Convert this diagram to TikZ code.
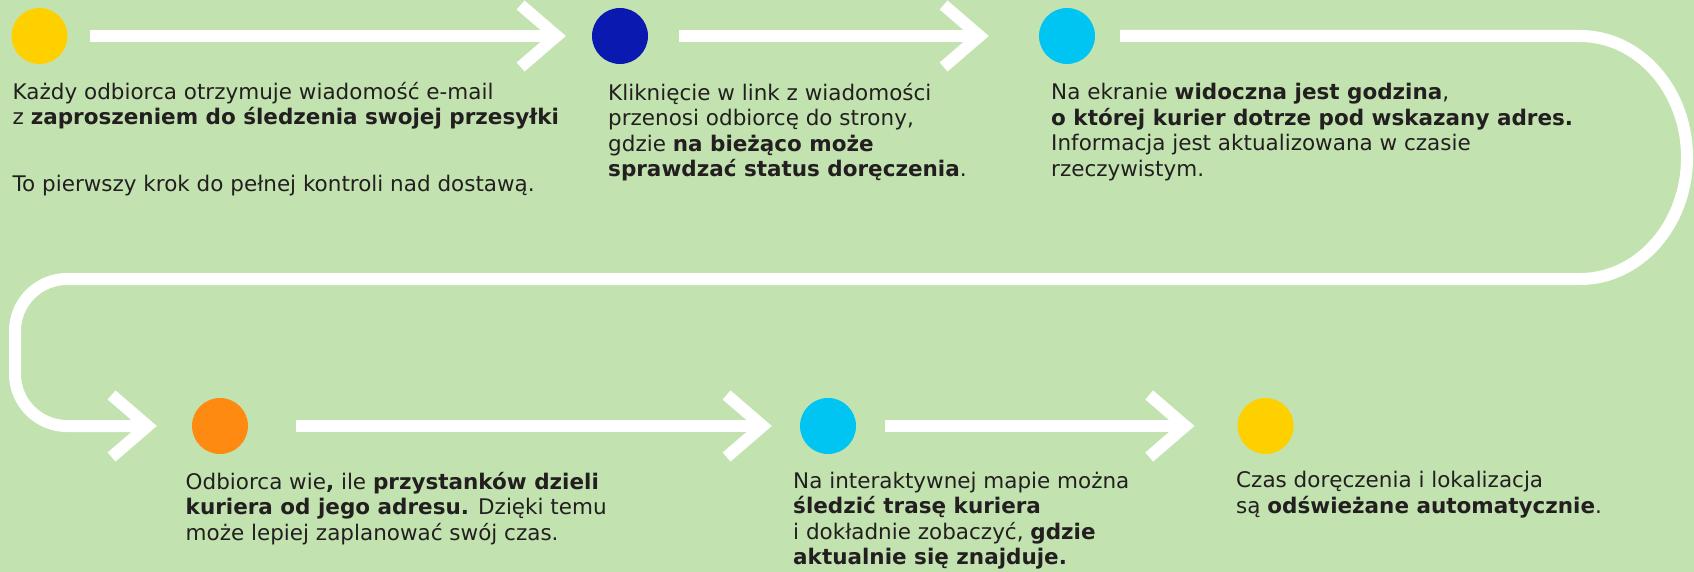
\documentclass[tikz,border=0pt]{standalone}
\usepackage{fontspec}
\setmainfont{DejaVu Sans}
\usetikzlibrary{positioning, arrows.meta}
\definecolor{bgGreen}{HTML}{C2E3B0}
\definecolor{inkDark}{HTML}{231F20}
\definecolor{sunYellow}{HTML}{FFD000}
\definecolor{deepBlue}{HTML}{0A1AB0}
\definecolor{skyCyan}{HTML}{00C4F2}
\definecolor{warmOrange}{HTML}{FF8A12}
\tikzstyle{stopDot} = [
    circle,
    minimum size = 56pt,
    inner sep = 0pt
]
\tikzstyle{noteText} = [
    anchor = north west,
    align = left,
    inner sep = 0pt,
    text = inkDark,
    font = \fontsize{21.5}{25.5}\selectfont,
    execute at begin node = \strut
]
\tikzstyle{flowLine} = [
    draw = white,
    line width = 12pt,
    -{Straight Barb[length=36pt, width=62pt, sharp]}
]
\begin{document}
\begin{tikzpicture}[x=1pt, y=-1pt]

    \path[use as bounding box, fill=bgGreen] (0,0) rectangle (1694,572);

    % top row
    \node [stopDot, fill=sunYellow] (dot1) at (39.5,36) {};
    \node [stopDot, fill=deepBlue] (dot2) at (620,36) {};
    \node [stopDot, fill=skyCyan] (dot3) at (1067,36) {};

    \node [noteText] (note1) at (12.5,82) {Każdy odbiorca otrzymuje wiadomość e-mail\\ z \textbf{zaproszeniem do śledzenia swojej przesyłki}\\[41.5pt] To pierwszy krok do pełnej kontroli nad dostawą.};
    \node [noteText] (note2) at (608,83) {Kliknięcie w link z wiadomości\\ przenosi odbiorcę do strony,\\ gdzie \textbf{na bieżąco może}\\ \textbf{sprawdzać status doręczenia}.};
    \node [noteText] (note3) at (1051,83) {Na ekranie \textbf{widoczna jest godzina},\\ \textbf{o której kurier dotrze pod wskazany adres.}\\ Informacja jest aktualizowana w czasie\\ rzeczywistym.};

    % bottom row
    \node [stopDot, fill=warmOrange] (dot4) at (220,426) {};
    \node [stopDot, fill=skyCyan] (dot5) at (828,426) {};
    \node [stopDot, fill=sunYellow] (dot6) at (1265.6,426) {};

    \node [noteText] (note4) at (185.5,472) {Odbiorca wie\textbf{,} ile \textbf{przystanków dzieli}\\ \textbf{kuriera od jego adresu.} Dzięki temu\\ może lepiej zaplanować swój czas.};
    \node [noteText] (note5) at (793,471.5) {Na interaktywnej mapie można\\ \textbf{śledzić trasę kuriera}\\ i dokładnie zobaczyć, \textbf{gdzie}\\ \textbf{aktualnie się znajduje.}};
    \node [noteText] (note6) at (1236,471) {Czas doręczenia i lokalizacja\\ są \textbf{odświeżane automatycznie}.};

    % path between the stops
    \coordinate (bendR) at (1580,36);
    \coordinate (bendL) at (15,279);
    \coordinate (bendB) at (15,426);

    \draw [flowLine, shorten <=22pt, shorten >=26pt] (dot1) -- (dot2);
    \draw [flowLine, shorten <=31pt, shorten >=50pt] (dot2) -- (dot3);
    \draw [flowLine, shorten <=25pt, shorten >=35pt] (dot3) -- (bendR)
        arc[start angle=-90, end angle=90, x radius=107, y radius=121.5]
        [rounded corners=52pt] -- (bendL) -- (bendB) -- (dot4);
    \draw [flowLine, shorten <=48pt, shorten >=28pt] (dot4) -- (dot5);
    \draw [flowLine, shorten <=29pt, shorten >=43pt] (dot5) -- (dot6);

\end{tikzpicture}
\end{document}
